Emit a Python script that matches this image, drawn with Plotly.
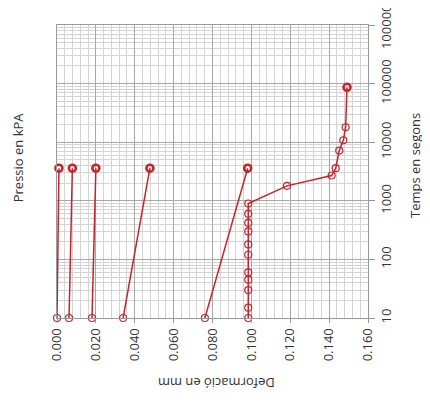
import plotly.graph_objects as go

# Time readings (s) and deformation (mm) per loading step
step_times = [10, 3600]
step1_def = [0.000, 0.001]
step2_def = [0.0062, 0.0079]
step3_def = [0.0180, 0.0200]
step4_def = [0.0340, 0.0478]
step5_def = [0.0761, 0.0981]

step6_times = [10, 15, 30, 45, 60, 120, 180, 300, 420, 600, 900,
               1800, 2700, 3600, 7200, 10800, 18000, 86400]
step6_def = [0.0984, 0.0984, 0.0984, 0.0984, 0.0984, 0.0984, 0.0984, 0.0984,
             0.0984, 0.0984, 0.0984,
             0.1183, 0.1413, 0.1434, 0.1452, 0.1473, 0.1485, 0.1492]

x_ticks = [0.0, 0.02, 0.04, 0.06, 0.08, 0.10, 0.12, 0.14, 0.16]
x_tick_labels = ["0.000", "0.020", "0.040", "0.060", "0.080", "0.100", "0.120", "0.140", "0.160"]
y_ticks = [10, 100, 1000, 10000, 100000, 1000000]
y_tick_labels = ["10", "100", "1000", "10000", "100000", "1000000"]

RED = "#C4252D"
fig = go.Figure()

def add_step(d, t):
    widths = [1.2] * (len(t) - 1) + [2.6]
    fig.add_trace(go.Scatter(
        x=d, y=t, mode="lines+markers", cliponaxis=False,
        line=dict(color=RED, width=1.5),
        marker=dict(symbol="circle-open", size=7, color=RED,
                    line=dict(color=RED, width=widths)),
        showlegend=False, hoverinfo="skip"))

for d in [step1_def, step2_def, step3_def, step4_def, step5_def]:
    add_step(d, step_times)
add_step(step6_def, step6_times)

font = dict(family="Open Sans, Lato, sans-serif", size=13, color="#333333")

fig.update_layout(
    width=422, height=397,
    margin=dict(l=49, r=62, t=17, b=87),
    paper_bgcolor="white", plot_bgcolor="white",
    font=font,
    xaxis=dict(
        range=[0, 0.16], tickvals=x_ticks, ticktext=x_tick_labels,
        tickangle=-90, ticks="outside", ticklen=4, tickcolor="#999999",
        showgrid=True, gridcolor="#A8A8A8", gridwidth=1,
        minor=dict(dtick=0.004, showgrid=True, gridcolor="#D4D4D4", ticks=""),
        showline=True, linecolor="#999999", linewidth=1, mirror=True,
        zeroline=False, tickfont=font, automargin=False,
        ticklabeloverflow="allow",
    ),
    yaxis=dict(
        type="log", range=[0.99999, 6.00001], side="right",
        tickvals=y_ticks, ticktext=y_tick_labels,
        tickangle=-90, ticks="outside", ticklen=6, tickcolor="#999999",
        showgrid=True, gridcolor="#A8A8A8", gridwidth=1,
        minor=dict(dtick="D1", showgrid=True, gridcolor="#D4D4D4", ticks=""),
        showline=True, linecolor="#999999", linewidth=1, mirror=True,
        zeroline=False, tickfont=font, automargin=False,
        ticklabeloverflow="allow",
    ),
    annotations=[
        dict(text="Deformació en mm", xref="paper", yref="paper",
             x=0.511, y=-0.222, xanchor="center", yanchor="middle",
             showarrow=False, textangle=180, font=font),
        dict(text="Temps en segons", xref="paper", yref="paper",
             x=1.151, y=0.522, xanchor="center", yanchor="middle",
             showarrow=False, textangle=-90, font=font),
        dict(text="Pressio en kPA", xref="paper", yref="paper",
             x=-0.125, y=0.549, xanchor="center", yanchor="middle",
             showarrow=False, textangle=-90, font=font),
    ],
)

fig.write_html("out.html")
